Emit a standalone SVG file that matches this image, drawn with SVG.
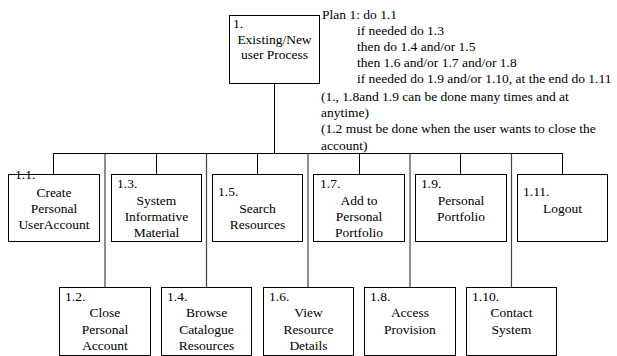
<svg xmlns="http://www.w3.org/2000/svg" width="617" height="356" viewBox="0 0 617 356">
  <style>
    .box { fill: #ffffff; stroke: #000000; stroke-width: 1; }
    .ln { stroke: #000000; stroke-width: 1; fill: none; }
    .lg { stroke: #444444; stroke-width: 1.2; fill: none; }
    text { font-family: "Liberation Serif", "Times New Roman", serif; font-size: 13.5px; fill: #000000; }
    .c { text-anchor: middle; }
  </style>
  <rect width="617" height="356" fill="#ffffff"/>

  <!-- connectors -->
  <g id="connectors">
    <line class="ln" x1="274.5" y1="83" x2="274.5" y2="153.5"/>
    <line class="ln" x1="53.5" y1="153.5" x2="562.5" y2="153.5"/>
    <!-- drops to the upper row -->
    <line class="ln" x1="53.5" y1="153.5" x2="53.5" y2="174"/>
    <line class="ln" x1="156.5" y1="153.5" x2="156.5" y2="174"/>
    <line class="ln" x1="257.5" y1="153.5" x2="257.5" y2="174"/>
    <line class="ln" x1="359.5" y1="153.5" x2="359.5" y2="174"/>
    <line class="ln" x1="460.5" y1="153.5" x2="460.5" y2="174"/>
    <line class="ln" x1="562.5" y1="153.5" x2="562.5" y2="174"/>
    <!-- drops to the lower row -->
    <line class="lg" x1="105" y1="153.5" x2="105" y2="287"/>
    <line class="lg" x1="206.5" y1="153.5" x2="206.5" y2="287"/>
    <line class="lg" x1="308" y1="153.5" x2="308" y2="287"/>
    <line class="lg" x1="410" y1="153.5" x2="410" y2="287"/>
    <line class="lg" x1="511.5" y1="153.5" x2="511.5" y2="287"/>
  </g>

  <!-- root task -->
  <g id="n1">
    <rect class="box" x="229.5" y="15.5" width="90" height="68"/>
    <text x="233" y="28">1.</text>
    <text class="c" x="274.5" y="44">Existing/New</text>
    <text class="c" x="274.5" y="59">user Process</text>
  </g>

  <!-- plan -->
  <g id="plan">
    <text x="322" y="19">Plan 1: do 1.1</text>
    <text x="357" y="35">if needed do 1.3</text>
    <text x="357" y="51">then do 1.4 and/or 1.5</text>
    <text x="357" y="67">then 1.6 and/or 1.7 and/or 1.8</text>
    <text x="357" y="83">if needed do 1.9 and/or 1.10, at the end do 1.11</text>
    <text x="321" y="101">(1., 1.8and 1.9 can be done many times and at</text>
    <text x="321" y="117">anytime)</text>
    <text x="321" y="133">(1.2 must be done when the user wants to close the</text>
    <text x="321" y="150">account)</text>
  </g>

  <!-- upper row -->
  <g id="n1_1">
    <rect class="box" x="8.5" y="174.5" width="91" height="67"/>
    <text x="15" y="179">1.1.</text>
    <text class="c" x="54" y="197">Create</text>
    <text class="c" x="54" y="213">Personal</text>
    <text class="c" x="54" y="229">UserAccount</text>
  </g>
  <g id="n1_3">
    <rect class="box" x="111.5" y="174.5" width="90" height="67"/>
    <text x="117" y="188">1.3.</text>
    <text class="c" x="156.5" y="205">System</text>
    <text class="c" x="156.5" y="221">Informative</text>
    <text class="c" x="156.5" y="237">Material</text>
  </g>
  <g id="n1_5">
    <rect class="box" x="212.5" y="174.5" width="90" height="67"/>
    <text x="218" y="196">1.5.</text>
    <text class="c" x="257.5" y="213">Search</text>
    <text class="c" x="257.5" y="229">Resources</text>
  </g>
  <g id="n1_7">
    <rect class="box" x="313.5" y="174.5" width="91" height="67"/>
    <text x="320" y="188">1.7.</text>
    <text class="c" x="359" y="205">Add to</text>
    <text class="c" x="359" y="221">Personal</text>
    <text class="c" x="359" y="237">Portfolio</text>
  </g>
  <g id="n1_9">
    <rect class="box" x="415.5" y="174.5" width="91" height="67"/>
    <text x="421" y="188">1.9.</text>
    <text class="c" x="461" y="205">Personal</text>
    <text class="c" x="461" y="221">Portfolio</text>
  </g>
  <g id="n1_11">
    <rect class="box" x="517.5" y="174.5" width="90" height="67"/>
    <text x="523" y="196">1.11.</text>
    <text class="c" x="562.5" y="213">Logout</text>
  </g>

  <!-- lower row -->
  <g id="n1_2">
    <rect class="box" x="59.5" y="287.5" width="91" height="68"/>
    <text x="65" y="301">1.2.</text>
    <text class="c" x="105" y="317">Close</text>
    <text class="c" x="105" y="334">Personal</text>
    <text class="c" x="105" y="350">Account</text>
  </g>
  <g id="n1_4">
    <rect class="box" x="161.5" y="287.5" width="90" height="68"/>
    <text x="167" y="301">1.4.</text>
    <text class="c" x="206.5" y="317">Browse</text>
    <text class="c" x="206.5" y="334">Catalogue</text>
    <text class="c" x="206.5" y="350">Resources</text>
  </g>
  <g id="n1_6">
    <rect class="box" x="263.5" y="287.5" width="90" height="68"/>
    <text x="269" y="301">1.6.</text>
    <text class="c" x="308.5" y="317">View</text>
    <text class="c" x="308.5" y="334">Resource</text>
    <text class="c" x="308.5" y="350">Details</text>
  </g>
  <g id="n1_8">
    <rect class="box" x="364.5" y="287.5" width="91" height="68"/>
    <text x="370" y="301">1.8.</text>
    <text class="c" x="410" y="317">Access</text>
    <text class="c" x="410" y="334">Provision</text>
  </g>
  <g id="n1_10">
    <rect class="box" x="466.5" y="287.5" width="90" height="68"/>
    <text x="472" y="301">1.10.</text>
    <text class="c" x="511.5" y="317">Contact</text>
    <text class="c" x="511.5" y="334">System</text>
  </g>
</svg>
